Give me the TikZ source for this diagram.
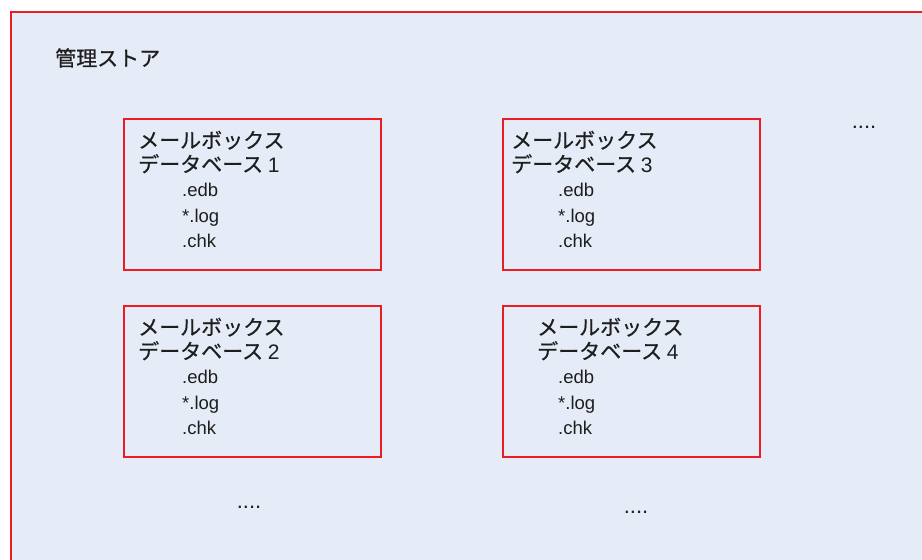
\documentclass[tikz,border=0pt]{standalone}
\usepackage{fontspec}
\setmainfont{Liberation Sans}
\newfontfamily\cjk[FakeBold=0.6]{Noto Sans CJK JP}
\usetikzlibrary{positioning, calc}

\definecolor{storefill}{RGB}{230,236,247}
\definecolor{storered}{RGB}{237,28,36}
\definecolor{storetext}{RGB}{30,30,30}

\begin{document}
\begin{tikzpicture}[x=1pt, y=-1pt,
    store/.style={draw=storered, fill=storefill, line width=1.8pt, anchor=north west, inner sep=0pt},
    dbbox/.style={draw=storered, line width=1.8pt, minimum width=257pt, minimum height=151pt, anchor=north west, inner sep=0pt},
    dbtitle/.style={font=\cjk\fontsize{21}{24}\selectfont, text=storetext, anchor=base west, inner sep=0pt},
    dbfile/.style={font=\fontsize{18.5}{22}\selectfont, text=storetext, anchor=base west, inner sep=0pt},
    dots/.style={font=\fontsize{22}{24}\selectfont, text=storetext, anchor=base, inner sep=0pt}
]
\useasboundingbox (0,0) rectangle (922,560);
\clip (0,0) rectangle (922,560);

% Store
\node[store, minimum width=940pt, minimum height=580pt] (store) at (10,11) {};
\node[dbtitle] (storelabel) at (55,66) {管理ストア};

% Databases
\foreach \n/\x/\y/\tx/\fx in {1/123/118/15/59, 2/123/305/15/59, 3/502/118/9/56, 4/502/305/35/56} {
    \node[dbbox] (db\n) at (\x,\y) {};
    \node[dbtitle] (ta\n) at ($(db\n.north west)+(\tx,30)$) {メールボックス};
    \node[dbtitle] (tb\n) at ($(db\n.north west)+(\tx,54)$) {データベース {\rmfamily\n}};
    \foreach \f [count=\k] in {.edb,*.log,.chk} {
        \node[dbfile] (f\n\k) at ($(db\n.north west)+(\fx,53+\k*25.5)$) {\f};
    }
}

% More
\node[dots] (moredb) at (864,128) {....};
\node[dots] (morea) at (249,508) {....};
\node[dots] (moreb) at (636,513) {....};

\end{tikzpicture}
\end{document}
